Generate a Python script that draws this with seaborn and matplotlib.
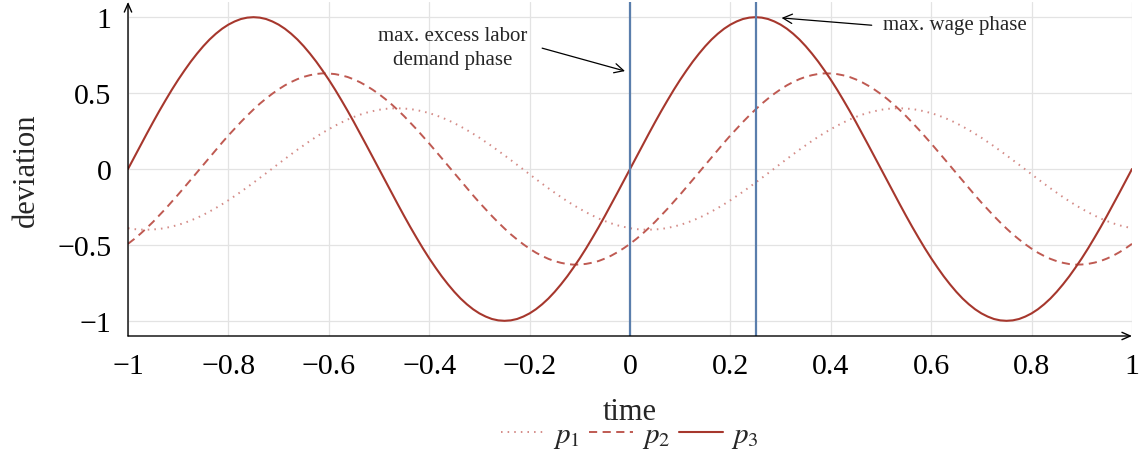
import numpy as np
import pandas as pd
import matplotlib
matplotlib.use("Agg")
import matplotlib.pyplot as plt
import seaborn as sns

time = np.linspace(-1.0, 1.0, 161)

p3 = [0.0, 0.078, 0.156, 0.233, 0.309, 0.383, 0.454, 0.523, 0.588, 0.649,
      0.707, 0.760, 0.809, 0.853, 0.891, 0.924, 0.951, 0.972, 0.988, 0.997,
      1.0, 0.997, 0.988, 0.972, 0.951, 0.924, 0.891, 0.853, 0.809, 0.760,
      0.707, 0.649, 0.588, 0.523, 0.454, 0.383, 0.309, 0.233, 0.156, 0.078,
      0.0, -0.078, -0.156, -0.233, -0.309, -0.383, -0.454, -0.523, -0.588, -0.649,
      -0.707, -0.760, -0.809, -0.853, -0.891, -0.924, -0.951, -0.972, -0.988, -0.997,
      -1.0, -0.997, -0.988, -0.972, -0.951, -0.924, -0.891, -0.853, -0.809, -0.760,
      -0.707, -0.649, -0.588, -0.523, -0.454, -0.383, -0.309, -0.233, -0.156, -0.078,
      0.0, 0.078, 0.156, 0.233, 0.309, 0.383, 0.454, 0.523, 0.588, 0.649,
      0.707, 0.760, 0.809, 0.853, 0.891, 0.924, 0.951, 0.972, 0.988, 0.997,
      1.0, 0.997, 0.988, 0.972, 0.951, 0.924, 0.891, 0.853, 0.809, 0.760,
      0.707, 0.649, 0.588, 0.523, 0.454, 0.383, 0.309, 0.233, 0.156, 0.078,
      0.0, -0.078, -0.156, -0.233, -0.309, -0.383, -0.454, -0.523, -0.588, -0.649,
      -0.707, -0.760, -0.809, -0.853, -0.891, -0.924, -0.951, -0.972, -0.988, -0.997,
      -1.0, -0.997, -0.988, -0.972, -0.951, -0.924, -0.891, -0.853, -0.809, -0.760,
      -0.707, -0.649, -0.588, -0.523, -0.454, -0.383, -0.309, -0.233, -0.156, -0.078,
      0.0]

p2 = [-0.493, -0.461, -0.426, -0.388, -0.348, -0.305, -0.261, -0.215, -0.168, -0.120,
      -0.071, -0.022, 0.027, 0.077, 0.126, 0.174, 0.221, 0.266, 0.310, 0.352,
      0.392, 0.430, 0.464, 0.496, 0.525, 0.551, 0.573, 0.592, 0.607, 0.618,
      0.626, 0.630, 0.629, 0.625, 0.617, 0.606, 0.590, 0.571, 0.548, 0.522,
      0.493, 0.461, 0.426, 0.388, 0.348, 0.305, 0.261, 0.215, 0.168, 0.120,
      0.071, 0.022, -0.027, -0.077, -0.126, -0.174, -0.221, -0.266, -0.310, -0.352,
      -0.392, -0.430, -0.464, -0.496, -0.525, -0.551, -0.573, -0.592, -0.607, -0.618,
      -0.626, -0.630, -0.629, -0.625, -0.617, -0.606, -0.590, -0.571, -0.548, -0.522,
      -0.493, -0.461, -0.426, -0.388, -0.348, -0.305, -0.261, -0.215, -0.168, -0.120,
      -0.071, -0.022, 0.027, 0.077, 0.126, 0.174, 0.221, 0.266, 0.310, 0.352,
      0.392, 0.430, 0.464, 0.496, 0.525, 0.551, 0.573, 0.592, 0.607, 0.618,
      0.626, 0.630, 0.629, 0.625, 0.617, 0.606, 0.590, 0.571, 0.548, 0.522,
      0.493, 0.461, 0.426, 0.388, 0.348, 0.305, 0.261, 0.215, 0.168, 0.120,
      0.071, 0.022, -0.027, -0.077, -0.126, -0.174, -0.221, -0.266, -0.310, -0.352,
      -0.392, -0.430, -0.464, -0.496, -0.525, -0.551, -0.573, -0.592, -0.607, -0.618,
      -0.626, -0.630, -0.629, -0.625, -0.617, -0.606, -0.590, -0.571, -0.548, -0.522,
      -0.493]

p1 = [-0.390, -0.396, -0.399, -0.400, -0.398, -0.395, -0.388, -0.379, -0.368, -0.355,
      -0.339, -0.322, -0.302, -0.280, -0.257, -0.232, -0.206, -0.178, -0.150, -0.120,
      -0.090, -0.059, -0.028, 0.003, 0.035, 0.066, 0.097, 0.127, 0.156, 0.185,
      0.212, 0.238, 0.262, 0.285, 0.306, 0.326, 0.343, 0.358, 0.371, 0.381,
      0.390, 0.396, 0.399, 0.400, 0.398, 0.395, 0.388, 0.379, 0.368, 0.355,
      0.339, 0.322, 0.302, 0.280, 0.257, 0.232, 0.206, 0.178, 0.150, 0.120,
      0.090, 0.059, 0.028, -0.003, -0.035, -0.066, -0.097, -0.127, -0.156, -0.185,
      -0.212, -0.238, -0.262, -0.285, -0.306, -0.326, -0.343, -0.358, -0.371, -0.381,
      -0.390, -0.396, -0.399, -0.400, -0.398, -0.395, -0.388, -0.379, -0.368, -0.355,
      -0.339, -0.322, -0.302, -0.280, -0.257, -0.232, -0.206, -0.178, -0.150, -0.120,
      -0.090, -0.059, -0.028, 0.003, 0.035, 0.066, 0.097, 0.127, 0.156, 0.185,
      0.212, 0.238, 0.262, 0.285, 0.306, 0.326, 0.343, 0.358, 0.371, 0.381,
      0.390, 0.396, 0.399, 0.400, 0.398, 0.395, 0.388, 0.379, 0.368, 0.355,
      0.339, 0.322, 0.302, 0.280, 0.257, 0.232, 0.206, 0.178, 0.150, 0.120,
      0.090, 0.059, 0.028, -0.003, -0.035, -0.066, -0.097, -0.127, -0.156, -0.185,
      -0.212, -0.238, -0.262, -0.285, -0.306, -0.326, -0.343, -0.358, -0.371, -0.381,
      -0.390]

phase_lines = [0.0, 0.25]
x_ticks = [-1, -0.8, -0.6, -0.4, -0.2, 0, 0.2, 0.4, 0.6, 0.8, 1]
x_tick_labels = ["\u22121", "\u22120.8", "\u22120.6", "\u22120.4", "\u22120.2", "0",
                 "0.2", "0.4", "0.6", "0.8", "1"]
y_ticks = [-1, -0.5, 0, 0.5, 1]
y_tick_labels = ["\u22121", "\u22120.5", "0", "0.5", "1"]

df = pd.DataFrame({"time": time, "p1": p1, "p2": p2, "p3": p3})

# ---- style ----
sns.set_theme(style="white")
plt.rcParams["font.family"] = ["Liberation Serif", "DejaVu Serif"]
plt.rcParams["mathtext.fontset"] = "stix"

fig = plt.figure(figsize=(11.39, 4.52), dpi=100)
ax = fig.add_axes([128 / 1139, 1 - 337 / 452, (1132 - 128) / 1139, (337 - 3) / 452])

ax.grid(True, color="#e3e3e3", linewidth=0.9)
ax.set_axisbelow(True)

c1, c2, c3 = "#d48c88", "#bf5a52", "#a6372d"
sns.lineplot(data=df, x="time", y="p1", ax=ax, color=c1, linewidth=1.4,
             linestyle=(0, (0.8, 2.6)), label="$p_1$")
sns.lineplot(data=df, x="time", y="p2", ax=ax, color=c2, linewidth=1.4,
             linestyle=(0, (4.2, 2.8)), label="$p_2$")
sns.lineplot(data=df, x="time", y="p3", ax=ax, color=c3, linewidth=1.5,
             linestyle="-", label="$p_3$")

for xv in phase_lines:
    ax.axvline(xv, color="#5a7eac", linewidth=1.6, zorder=3)

ax.set_xlim(-1, 1)
ax.set_ylim(-1.1, 1.1)
ax.set_xticks(x_ticks)
ax.set_xticklabels(x_tick_labels)
ax.set_yticks(y_ticks)
ax.set_yticklabels(y_tick_labels)
ax.tick_params(axis="both", direction="inout", length=10, width=0.8, color="#808080",
               labelsize=21.5, labelcolor="black")
ax.tick_params(axis="x", pad=7.5)
ax.tick_params(axis="y", pad=7)

for s in ["top", "right", "left", "bottom"]:
    ax.spines[s].set_visible(False)

# axis lines with arrows
arrow_kw = dict(arrowstyle="->,head_length=0.5,head_width=0.22", color="black", lw=1.0,
                shrinkA=0, shrinkB=0)
ax.annotate("", xy=(0, 1.0), xytext=(0, 0), xycoords="axes fraction",
            arrowprops=arrow_kw, annotation_clip=False)
ax.annotate("", xy=(1.0, 0), xytext=(0, 0), xycoords="axes fraction",
            arrowprops=arrow_kw, annotation_clip=False)

ax.set_xlabel("time", fontsize=22, labelpad=13)
ax.set_ylabel("deviation", fontsize=22, labelpad=12)

# annotations
ann_kw = dict(arrowstyle="->,head_length=0.55,head_width=0.28", color="black",
              lw=0.9, shrinkA=0, shrinkB=0)
ax.text(-0.353, 0.80, "max. excess labor\ndemand phase", ha="center", va="center",
        fontsize=15, linespacing=1.4)
ax.annotate("", xy=(-0.01, 0.645), xytext=(-0.175, 0.796), arrowprops=ann_kw)
ax.text(0.504, 0.955, "max. wage phase", ha="left", va="center", fontsize=15)
ax.annotate("", xy=(0.302, 0.995), xytext=(0.4815, 0.947), arrowprops=ann_kw)

leg = ax.legend(loc="center", bbox_to_anchor=(0.5, -0.30), ncol=3, frameon=False,
                fontsize=21, handlelength=1.5, handletextpad=0.3, columnspacing=0.3,
                borderpad=0)

fig.savefig("out.png", dpi=100)
